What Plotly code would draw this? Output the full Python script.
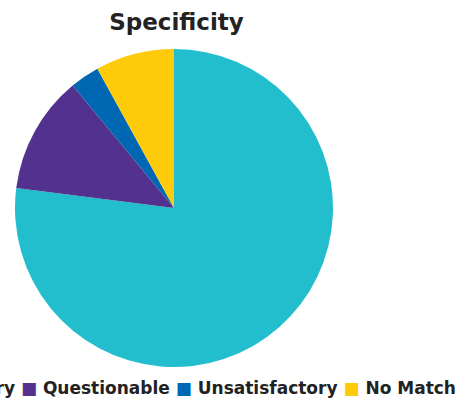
import plotly.graph_objects as go

# Data
categories = ["Satisfactory", "Questionable", "Unsatisfactory", "No Match"]
values = [77, 12, 3, 8]
colors = ["#22BECD", "#52318F", "#0068B3", "#FECB0B"]
title_text = "Specificity"

W, H = 464, 398

fig = go.Figure(
    go.Pie(
        labels=categories,
        values=values,
        sort=False,
        direction="clockwise",
        rotation=0,
        textinfo="none",
        hoverinfo="label+percent",
        marker=dict(colors=colors, line=dict(width=0)),
        showlegend=False,
        domain=dict(x=[15 / W, 333 / W], y=[1 - 367 / H, 1 - 49 / H]),
    )
)

# Legend row (single line, overflowing on the left like the reference)
legend_html = " ".join(
    f"<span style='color:{c}'>■</span> {lab}" for lab, c in zip(categories, colors)
)
fig.add_annotation(
    text=legend_html,
    xref="paper", yref="paper",
    x=458 / W, y=1 - 388 / H,
    xanchor="right", yanchor="middle",
    showarrow=False,
    font=dict(family="DejaVu Sans", size=17, color="#222222", weight="bold"),
)

fig.update_layout(
    width=W, height=H,
    margin=dict(l=0, r=0, t=0, b=0, autoexpand=False),
    paper_bgcolor="white",
    plot_bgcolor="white",
    title=dict(
        text=title_text,
        x=176.5 / W, xanchor="center",
        xref="container", yref="container",
        y=1 - 22 / H, yanchor="middle",
        font=dict(family="DejaVu Sans", size=23, color="#222222", weight="bold"),
    ),
)

fig.write_html(
    "out.html",
    config={"displayModeBar": False},
    post_script="document.body.style.margin='0';document.body.style.overflow='hidden';",
)
